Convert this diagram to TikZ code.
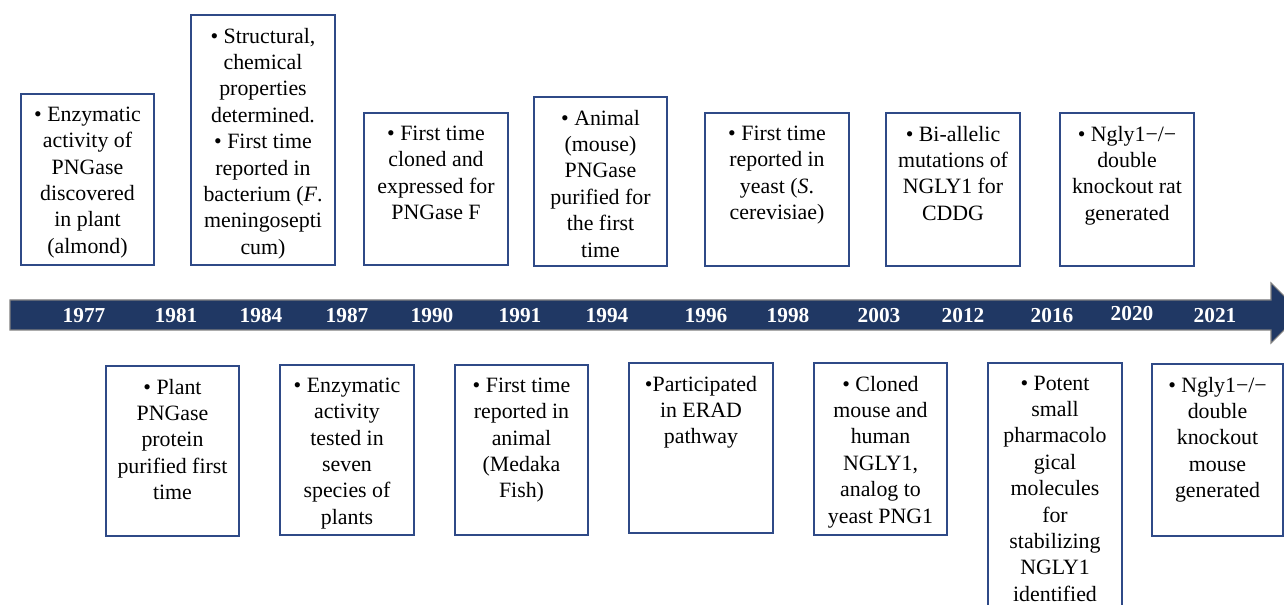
\documentclass[tikz,border=0pt]{standalone}
\usepackage{fontspec}
\setmainfont{Liberation Serif}
\usetikzlibrary{fit}
\definecolor{barblue}{RGB}{32,56,100}
\definecolor{boxblue}{RGB}{47,74,135}
\definecolor{bargray}{RGB}{128,128,128}
\tikzset{
  boxline/.style={draw=boxblue, line width=1.1pt, inner sep=0pt, fill=white},
  evtext/.style={align=center, inner sep=0pt, font=\fontsize{16.4}{19.8}\selectfont},
  yearlbl/.style={text=white, inner sep=0pt, font=\fontsize{16}{18}\selectfont\bfseries},
  barstyle/.style={fill=barblue, draw=bargray, line width=0.8pt}
}
\newcommand{\evbox}[6]{%
  \path (#2,#3) coordinate (#1a) (#4,#5) coordinate (#1b);
  \node[boxline, fit=(#1a)(#1b)] (#1) {};
  \node[evtext, anchor=north] (#1t) at ([yshift=-10pt]#1.north) {#6};
}
\begin{document}
\begin{tikzpicture}[x=0.75pt,y=-0.75pt]
\useasboundingbox (0,0) rectangle (1284,605);
\clip (0,0) rectangle (1284,605);
% timeline arrow
\draw[barstyle] (10,300) coordinate (barstart) -- (1271,300) -- (1271,283) -- (1301,313) coordinate (bartip) -- (1271,343) -- (1271,330) -- (10,330) -- cycle;
% years
\node[yearlbl] (y1977) at (84,316) {1977};
\node[yearlbl] (y1981) at (176,316) {1981};
\node[yearlbl] (y1984) at (261,316) {1984};
\node[yearlbl] (y1987) at (347,316) {1987};
\node[yearlbl] (y1990) at (432,316) {1990};
\node[yearlbl] (y1991) at (520,316) {1991};
\node[yearlbl] (y1994) at (607,316) {1994};
\node[yearlbl] (y1996) at (706,316) {1996};
\node[yearlbl] (y1998) at (788,316) {1998};
\node[yearlbl] (y2003) at (879,316) {2003};
\node[yearlbl] (y2012) at (963,316) {2012};
\node[yearlbl] (y2016) at (1052,316) {2016};
\node[yearlbl] (y2020) at (1132,314) {2020};
\node[yearlbl] (y2021) at (1215,316) {2021};
% top boxes
\evbox{b1}{21}{94}{154}{265}{• Enzymatic\\activity of\\PNGase\\discovered\\in plant\\(almond)}
\evbox{b2}{191}{15}{335}{265}{• Structural,\\chemical\\properties\\determined.\\• First time\\reported in\\bacterium (\textit{F}.\\meningosepti\\cum)}
\evbox{b3}{364}{113}{508}{265}{• First time\\cloned and\\expressed for\\PNGase F}
\evbox{b4}{534}{97}{667}{266}{• Animal\\(mouse)\\PNGase\\purified for\\the first\\time}
\evbox{b5}{705}{113}{849}{266}{• First time\\reported in\\yeast (\textit{S}.\\cerevisiae)}
\evbox{b6}{886}{113}{1020}{266}{• Bi-allelic\\mutations of\\NGLY1 for\\CDDG}
\evbox{b7}{1060}{113}{1194}{266}{• Ngly1−/−\\double\\knockout rat\\generated}
% bottom boxes
\evbox{c1}{106}{366}{239}{536}{• Plant\\PNGase\\protein\\purified first\\time}
\evbox{c2}{280}{365}{414}{535}{• Enzymatic\\activity\\tested in\\seven\\species of\\plants}
\evbox{c3}{455}{365}{588}{535}{• First time\\reported in\\animal\\(Medaka\\Fish)}
\evbox{c4}{629}{363}{773}{533}{•Participated\\in ERAD\\pathway}
\evbox{c5}{814}{363}{947}{535}{• Cloned\\mouse and\\human\\NGLY1,\\analog to\\yeast PNG1}
\evbox{c6}{988}{363}{1122}{620}{• Potent\\small\\pharmacolo\\gical\\molecules\\for\\stabilizing\\NGLY1\\identified}
\evbox{c7}{1152}{364}{1283}{536}{• Ngly1−/−\\double\\knockout\\mouse\\generated}
\end{tikzpicture}
\end{document}
